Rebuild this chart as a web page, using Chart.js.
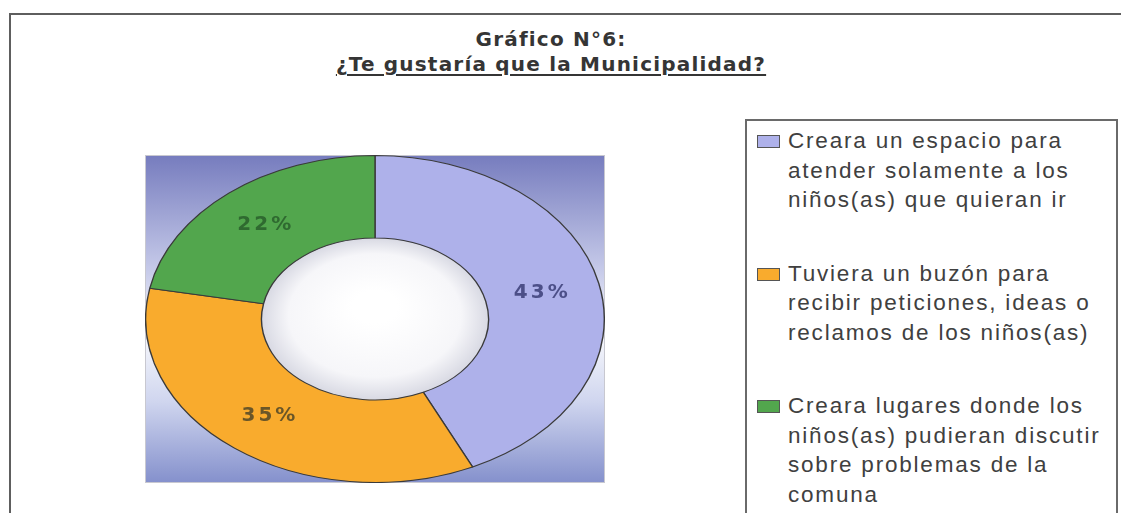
<!DOCTYPE html>
<html lang="es">
<head>
<meta charset="utf-8">
<script src="https://cdn.jsdelivr.net/npm/chart.js@4/dist/chart.umd.min.js"></script>
<style>
  html, body { margin: 0; padding: 0; width: 1121px; height: 513px; overflow: hidden; background: #fff; }
  #marco { position: absolute; left: 9px; top: 13px; width: 1200px; height: 600px; border: 2px solid #5e5e5e; box-sizing: border-box; }
  #titulo { position: absolute; left: 0; top: 27px; width: 1102px; text-align: center;
            font-family: "DejaVu Sans", sans-serif; font-weight: bold; font-size: 20px; color: #353535;
            line-height: 25px; letter-spacing: 1.2px; }
  #titulo .sub { text-decoration: underline; text-underline-offset: 3px; text-decoration-thickness: 2px; }
  #zona { position: absolute; left: 145px; top: 155px; width: 460px; height: 328px; }
  #leyenda { position: absolute; left: 745px; top: 119px; width: 373px; height: 420px;
             border: 2px solid #6a6a6a; box-sizing: border-box; padding-top: 5px; }
  .item { position: relative; padding-left: 41px; margin-bottom: 44px; white-space: nowrap;
          font-family: "Liberation Sans", Arial, sans-serif; font-size: 22.5px; letter-spacing: 1.8px;
          line-height: 29.5px; color: #404040; }
  .caja { position: absolute; left: 10px; top: 9px; width: 21px; height: 11px; border: 1px solid #555; }
</style>
</head>
<body>
<div id="marco"></div>
<div id="titulo">Gráfico N°6:<br><span class="sub">¿Te gustaría que la Municipalidad?</span></div>
<div id="zona"><canvas id="grafico" width="460" height="328"></canvas></div>
<div id="leyenda"></div>
<script>
// datos del gráfico
const categorias = [
    ["Creara un espacio para", "atender solamente a los", "niños(as) que quieran ir"],
    ["Tuviera un buzón para", "recibir peticiones, ideas o", "reclamos de los niños(as)"],
    ["Creara lugares donde los", "niños(as) pudieran discutir", "sobre problemas de la", "comuna"]
];
const porcentajes = [43, 35, 22];
const etiquetas = ["43%", "35%", "22%"];

const colores = ['#aeb1ea', '#f9ab2d', '#52a64d'];
const coloresTexto = ['#4c4f88', '#6a5628', '#2f6a30'];

// fondo degradado del área del gráfico
const fondo = {
    id: 'fondo',
    beforeDraw(chart) {
        const ctx = chart.ctx;
        const w = chart.width, h = chart.height;
        const g = ctx.createLinearGradient(0, 0, 0, h);
        g.addColorStop(0, '#767cbe');
        g.addColorStop(0.35, '#c6cae9');
        g.addColorStop(0.55, '#f7f8fc');
        g.addColorStop(0.75, '#d0d6ef');
        g.addColorStop(1, '#8490cc');
        ctx.save();
        ctx.fillStyle = g;
        ctx.fillRect(0, 0, w, h);
        ctx.strokeStyle = '#c8c8d0';
        ctx.strokeRect(0.5, 0.5, w - 1, h - 1);
        ctx.restore();
    }
};

// estira la dona en forma de elipse y pone los porcentajes
const elipse = {
    id: 'elipse',
    beforeDatasetsDraw(chart) {
        const ctx = chart.ctx;
        const a = chart.chartArea;
        const cx = (a.left + a.right) / 2, cy = (a.top + a.bottom) / 2;
        const sx = a.width / a.height;
        ctx.save();
        ctx.translate(cx, cy);
        ctx.scale(sx, 1);
        ctx.translate(-cx, -cy);
        const arco = chart.getDatasetMeta(0).data[0];
        const r = arco.innerRadius;
        const g = ctx.createRadialGradient(cx, cy - r * 0.15, r * 0.2, cx, cy, r);
        g.addColorStop(0, '#ffffff');
        g.addColorStop(0.7, '#f6f6f9');
        g.addColorStop(1, '#d8d9e3');
        ctx.fillStyle = g;
        ctx.beginPath();
        ctx.arc(cx, cy, r, 0, Math.PI * 2);
        ctx.fill();
    },
    afterDatasetsDraw(chart) {
        const ctx = chart.ctx;
        ctx.restore();
        const a = chart.chartArea;
        const cx = (a.left + a.right) / 2;
        const sx = a.width / a.height;
        ctx.save();
        ctx.font = 'bold 20px "DejaVu Sans", sans-serif';
        ctx.letterSpacing = '3px';
        ctx.textAlign = 'center';
        ctx.textBaseline = 'middle';
        chart.getDatasetMeta(0).data.forEach((arc, i) => {
            const p = arc.tooltipPosition();
            ctx.fillStyle = coloresTexto[i];
            ctx.fillText(etiquetas[i], cx + (p.x - cx) * sx, p.y);
        });
        ctx.restore();
    }
};

const ctx = document.getElementById('grafico').getContext('2d');
const grafico = new Chart(ctx, {
    type: 'doughnut',
    data: {
        labels: categorias,
        datasets: [{
            data: porcentajes,
            backgroundColor: colores,
            borderColor: '#3a3a3a',
            borderWidth: 1,
            hoverOffset: 0
        }]
    },
    options: {
        responsive: false,
        animation: false,
        events: [],
        cutout: '49.5%',
        layout: { padding: 0 },
        plugins: {
            legend: { display: false },
            tooltip: { enabled: false }
        }
    },
    plugins: [fondo, elipse]
});

// leyenda en html a partir de los items del gráfico
const leyenda = document.getElementById('leyenda');
grafico.options.plugins.legend.labels.generateLabels(grafico).forEach((item, i) => {
    const div = document.createElement('div');
    div.className = 'item';
    const caja = document.createElement('span');
    caja.className = 'caja';
    caja.style.background = colores[i];
    div.appendChild(caja);
    const lineas = Array.isArray(item.text) ? item.text : [item.text];
    lineas.forEach((l, j) => {
        if (j > 0) div.appendChild(document.createElement('br'));
        div.appendChild(document.createTextNode(l));
    });
    leyenda.appendChild(div);
});
</script>
</body>
</html>
